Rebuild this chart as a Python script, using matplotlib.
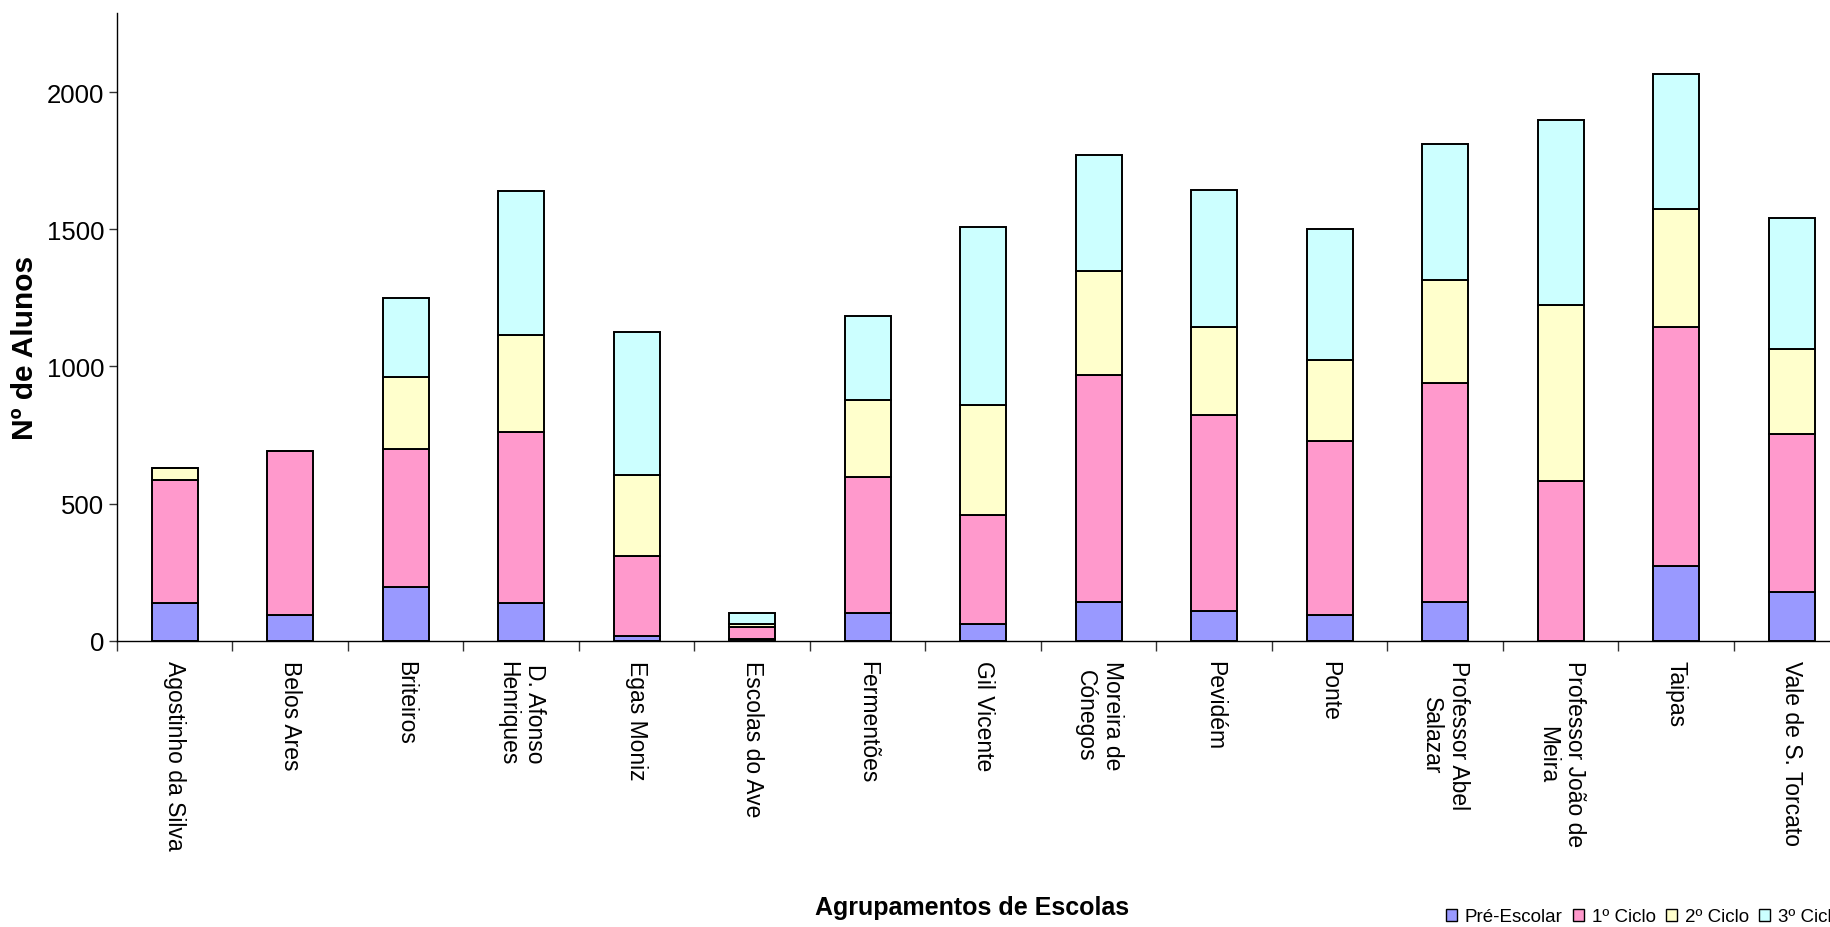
import matplotlib
matplotlib.use("Agg")
import matplotlib.pyplot as plt
import numpy as np
from matplotlib.patches import Patch

plt.rcParams['font.family'] = ['Liberation Sans', 'DejaVu Sans']

categories = ["Agostinho da Silva", "Belos Ares", "Briteiros", "D. Afonso\nHenriques",
              "Egas Moniz", "Escolas do Ave", "Fermentões", "Gil Vicente",
              "Moreira de\nCónegos", "Pevidém", "Ponte", "Professor Abel\nSalazar",
              "Professor João de\nMeira", "Taipas", "Vale de S. Torcato"]
pre_escolar = [136, 94, 197, 136, 18, 7, 101, 60, 142, 108, 94, 142, 0, 272, 176]
ciclo1 = [448, 599, 502, 626, 290, 43, 496, 399, 827, 716, 633, 799, 583, 870, 578]
ciclo2 = [47, 0, 263, 351, 295, 12, 282, 400, 378, 318, 297, 374, 640, 433, 311]
ciclo3 = [0, 0, 289, 525, 524, 40, 304, 648, 422, 502, 476, 494, 676, 491, 476]
series_names = ["Pré-Escolar", "1º Ciclo", "2º Ciclo", "3º Ciclo"]
colors = ["#9999FF", "#FF99CC", "#FFFFCC", "#CCFFFF"]
yticks = [0, 500, 1000, 1500, 2000]

W, H = 1831, 928
fig = plt.figure(figsize=(W / 100, H / 100), dpi=100)
ax = fig.add_axes([117 / W, (H - 641.7) / H, 1732.5 / W, 628.2 / H])

x = np.arange(len(categories))
bottom = np.zeros(len(categories))
for vals, name, c in zip([pre_escolar, ciclo1, ciclo2, ciclo3], series_names, colors):
    v = np.array(vals, dtype=float)
    ax.bar(x, v, width=0.4, bottom=bottom, color=c, edgecolor="black", linewidth=1.4, label=name, zorder=3)
    bottom += v

ax.set_xlim(-0.5, len(categories) - 0.5)
ax.set_ylim(0, 2290)
ax.set_yticks(yticks)
ax.set_yticklabels([str(t) for t in yticks], fontsize=18.5)
ax.tick_params(axis='y', direction='out', length=6, width=1, pad=3, color='#333333')

ax.set_xticks(x)
ax.set_xticklabels(categories, rotation=270, fontsize=16.5, va='top', ha='center',
                   multialignment='center')
ax.tick_params(axis='x', which='major', length=0, pad=14)
ax.set_xticks(np.arange(len(categories) + 1) - 0.5, minor=True)
ax.tick_params(axis='x', which='minor', direction='out', length=7, width=1, color='#333333')

for s in ['top', 'right']:
    ax.spines[s].set_visible(False)
ax.spines['left'].set_linewidth(1.0)
ax.spines['bottom'].set_linewidth(1.0)

fig.text(25 / W, 1 - 348 / H, "Nº de Alunos", rotation=90, fontsize=21.5, fontweight='bold',
         ha='center', va='center')
fig.text(972 / W, 1 - 908 / H, "Agrupamentos de Escolas", fontsize=18, fontweight='bold',
         ha='center', va='center')

handles = [Patch(facecolor=c, edgecolor='black', linewidth=1.0) for c in colors]
fig.legend(handles, series_names, loc='center left', bbox_to_anchor=(1446 / W, 1 - 918 / H),
           ncol=4, frameon=False, fontsize=13.5, handlelength=0.6, handleheight=0.6,
           handletextpad=0.4, columnspacing=0.55, borderaxespad=0, borderpad=0)

fig.savefig("out.png", dpi=100)
